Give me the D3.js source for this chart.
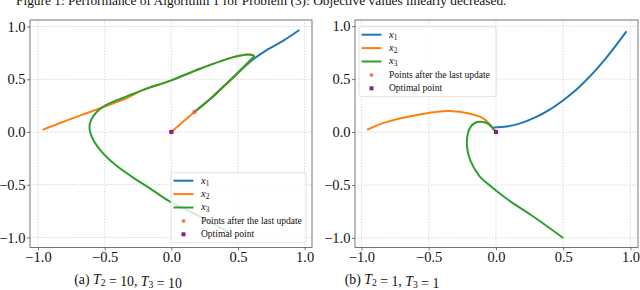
<!DOCTYPE html>
<html>
<head>
<meta charset="utf-8">
<script src="https://cdn.jsdelivr.net/npm/d3@7"></script>
<style>
  body { margin: 0; background: #fff; }
  svg { display: block; }
  svg text { font-family: "Liberation Serif", "Times New Roman", serif !important; }
</style>
</head>
<body>
<svg id="chart" width="640" height="290"></svg>
<script>
// tick values shared by both panels
const tickValues = [-1, -0.5, 0, 0.5, 1];

// panel (a): T2 = 10, T3 = 10  -- trajectories
const aX1 = [[0.96, 0.967], [0.84, 0.866], [0.715, 0.777], [0.615, 0.69], [0.465, 0.52], [0.315, 0.34], [0.173, 0.19]];
const aX2 = [[-0.965, 0.02], [-0.835, 0.085], [-0.6, 0.195], [-0.435, 0.272], [-0.33, 0.325], [-0.21, 0.4],
  [0.0, 0.49], [0.215, 0.6], [0.465, 0.71], [0.578, 0.735], [0.62, 0.72], [0.6, 0.69], [0.465, 0.52],
  [0.315, 0.34], [0.173, 0.19], [0.0, 0.0]];
const aX3 = [[0.45, -0.97], [0.3, -0.86], [0.15, -0.76], [-0.01, -0.66], [-0.16, -0.535], [-0.3, -0.42],
  [-0.42, -0.31], [-0.52, -0.19], [-0.585, -0.076], [-0.614, 0.04], [-0.6, 0.12], [-0.56, 0.19],
  [-0.51, 0.24], [-0.435, 0.287], [-0.33, 0.34], [-0.21, 0.4], [0.0, 0.49], [0.215, 0.6], [0.465, 0.71],
  [0.578, 0.735], [0.62, 0.72], [0.6, 0.69], [0.465, 0.52], [0.315, 0.34], [0.173, 0.19]];
const aLast = [[0.173, 0.19], [0.0, 0.0]];
const aOptimal = [[0, 0]];

// panel (b): T2 = 1, T3 = 1
const bX1 = [[0.97, 0.95], [0.8, 0.67], [0.627, 0.435], [0.5, 0.3], [0.4, 0.212], [0.28, 0.131],
  [0.18, 0.082], [0.08, 0.052], [-0.02, 0.042]];
const bX2 = [[-0.958, 0.022], [-0.816, 0.094], [-0.567, 0.166], [-0.418, 0.195], [-0.343, 0.198],
  [-0.2, 0.176], [-0.13, 0.15], [-0.09, 0.125], [-0.05, 0.08], [-0.025, 0.04], [0.0, 0.0]];
const bX3 = [[0.5, -1.0], [0.28, -0.8], [0.08, -0.63], [-0.05, -0.5], [-0.12, -0.42], [-0.19, -0.27],
  [-0.215, -0.14], [-0.21, -0.02], [-0.19, 0.047], [-0.15, 0.09], [-0.12, 0.098], [-0.08, 0.09],
  [-0.05, 0.07], [-0.02, 0.03], [0.0, 0.0]];
const bLast = [[0.0, 0.0]];
const bOptimal = [[0, 0]];

const seriesNames = ['1', '2', '3'];
const colors = ['#1f77b4', '#ff7f0e', '#2ca02c'];
const lastColor = '#ff5a4e';
const optimalColor = '#8b1a8b';

const svg = d3.select('#chart');

// figure caption, cut off at the top of the crop
svg.append('text')
  .attr('x', 16)
  .attr('y', 5)
  .attr('font-size', 13.4)
  .attr('fill', '#111')
  .text('Figure 1: Performance of Algorithm 1 for Problem (3): Objective values linearly decreased.');

function subLabel(sel, base, sub, italicBase) {
  sel.append('tspan').attr('font-style', italicBase ? 'italic' : null).text(base);
  sel.append('tspan').attr('font-size', '0.7em').attr('dy', '0.25em').text(sub);
  sel.append('tspan').attr('dy', '-0.25em').text('');
}

function drawPanel(cfg) {
  const g = svg.append('g');
  const x = d3.scaleLinear().domain(cfg.xDomain).range([cfg.left, cfg.right]);
  const y = d3.scaleLinear().domain(cfg.yDomain).range([cfg.bottom, cfg.top]);

  // gridlines
  const grid = g.append('g')
    .attr('stroke', '#c8c8c8')
    .attr('stroke-width', 0.8)
    .attr('stroke-dasharray', '1.2,1.6');
  grid.selectAll('line.gx').data(tickValues).join('line')
    .attr('class', 'gx')
    .attr('x1', (d) => x(d)).attr('x2', (d) => x(d))
    .attr('y1', cfg.top).attr('y2', cfg.bottom);
  grid.selectAll('line.gy').data(tickValues).join('line')
    .attr('class', 'gy')
    .attr('y1', (d) => y(d)).attr('y2', (d) => y(d))
    .attr('x1', cfg.left).attr('x2', cfg.right);

  const line = d3.line()
    .x((d) => x(d[0]))
    .y((d) => y(d[1]))
    .curve(d3.curveCatmullRom.alpha(0.5));

  cfg.series.forEach((s, i) => {
    g.append('path')
      .attr('d', line(s))
      .attr('fill', 'none')
      .attr('stroke', colors[i])
      .attr('stroke-width', 2)
      .attr('stroke-linejoin', 'round');
  });

  g.append('g').selectAll('circle').data(cfg.last).join('circle')
    .attr('cx', (d) => x(d[0])).attr('cy', (d) => y(d[1]))
    .attr('r', 2.3)
    .attr('fill', lastColor)
    .attr('fill-opacity', 0.8);

  g.append('g').selectAll('rect').data(cfg.optimal).join('rect')
    .attr('x', (d) => x(d[0]) - 2).attr('y', (d) => y(d[1]) - 2)
    .attr('width', 4).attr('height', 4)
    .attr('fill', optimalColor);

  // frame
  g.append('rect')
    .attr('x', cfg.left).attr('y', cfg.top)
    .attr('width', cfg.right - cfg.left).attr('height', cfg.bottom - cfg.top)
    .attr('fill', 'none')
    .attr('stroke', '#555')
    .attr('stroke-width', 0.8);

  const fmt = (d) => d3.format('.1f')(d).replace('-', '\u2212');
  const xAxis = g.append('g')
    .attr('transform', `translate(0,${cfg.bottom})`)
    .call(d3.axisBottom(x).tickValues(tickValues).tickFormat(fmt).tickSize(3).tickPadding(1.5));
  const yAxis = g.append('g')
    .attr('transform', `translate(${cfg.left},0)`)
    .call(d3.axisLeft(y).tickValues(tickValues).tickFormat(fmt).tickSize(3).tickPadding(1.5));
  [xAxis, yAxis].forEach((ax) => {
    ax.attr('font-family', null).attr('font-size', 14.5);
    ax.select('.domain').remove();
    ax.selectAll('line').attr('stroke', '#555').attr('stroke-width', 0.8);
    ax.selectAll('text').attr('fill', '#111');
  });

  // legend
  const lg = g.append('g').attr('transform', `translate(${cfg.legend[0]},${cfg.legend[1]})`);
  lg.append('rect')
    .attr('width', cfg.legend[2]).attr('height', 70)
    .attr('rx', 2)
    .attr('fill', '#fff').attr('fill-opacity', 0.8)
    .attr('stroke', '#d8d8d8').attr('stroke-width', 0.8);
  const rowY = (i) => 8 + i * 13.4;
  seriesNames.forEach((n, i) => {
    lg.append('line')
      .attr('x1', 2.5).attr('x2', 22.5)
      .attr('y1', rowY(i)).attr('y2', rowY(i))
      .attr('stroke', colors[i]).attr('stroke-width', 2);
    const t = lg.append('text')
      .attr('x', 30).attr('y', rowY(i) + 3)
      .attr('font-size', 10.5).attr('fill', '#111');
    subLabel(t, 'x', n, true);
  });
  lg.append('circle')
    .attr('cx', 12.5).attr('cy', rowY(3)).attr('r', 2)
    .attr('fill', lastColor).attr('fill-opacity', 0.8);
  lg.append('text')
    .attr('x', 30).attr('y', rowY(3) + 3.2)
    .attr('font-size', 9.5).attr('fill', '#111')
    .text('Points after the last update');
  lg.append('rect')
    .attr('x', 10.5).attr('y', rowY(4) - 2).attr('width', 4).attr('height', 4)
    .attr('fill', optimalColor);
  lg.append('text')
    .attr('x', 30).attr('y', rowY(4) + 3.2)
    .attr('font-size', 9.5).attr('fill', '#111')
    .text('Optimal point');

  // sub-caption
  const cap = svg.append('text')
    .attr('x', cfg.captionX).attr('y', 283.5)
    .attr('text-anchor', 'middle')
    .attr('font-size', 13.8).attr('fill', '#111');
  cap.append('tspan').text(cfg.caption[0] + ' ');
  subLabel(cap, 'T', '2', true);
  cap.append('tspan').text(' = ' + cfg.caption[1] + ', ');
  subLabel(cap, 'T', '3', true);
  cap.append('tspan').text(' = ' + cfg.caption[2]);
}

drawPanel({
  left: 30, right: 312, top: 20, bottom: 247.5,
  xDomain: [-1.06, 1.055], yDomain: [-1.095, 1.062],
  series: [aX1, aX2, aX3], last: aLast, optimal: aOptimal,
  legend: [171, 172.7, 135],
  caption: ['(a)', '10', '10'], captionX: 128
});

drawPanel({
  left: 355, right: 638, top: 20, bottom: 247.5,
  xDomain: [-1.048, 1.056], yDomain: [-1.09, 1.058],
  series: [bX1, bX2, bX3], last: bLast, optimal: bOptimal,
  legend: [359, 26.7, 137],
  caption: ['(b)', '1', '1'], captionX: 392
});
</script>
</body>
</html>
